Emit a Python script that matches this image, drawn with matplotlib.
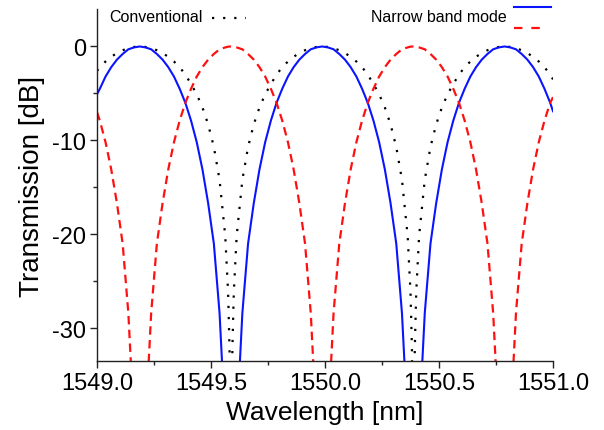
"""
Transmision de filtro: modo convencional vs modo de banda estrecha
"""

import matplotlib
matplotlib.use("Agg")
import matplotlib.pyplot as plt
from matplotlib.lines import Line2D
from matplotlib.ticker import MultipleLocator

# Longitudes de onda (nm)
wavelength = [
    1549.0, 1549.0125, 1549.0375, 1549.0625, 1549.0875, 1549.1125, 1549.1375, 1549.1625,
    1549.1875, 1549.2125, 1549.2375, 1549.2625, 1549.2875, 1549.3125, 1549.3375, 1549.3625,
    1549.3875, 1549.4125, 1549.4375, 1549.4625, 1549.4875, 1549.5125, 1549.5375, 1549.5625,
    1549.575, 1549.58125, 1549.5875, 1549.59375, 1549.6,
    1549.6125, 1549.6375, 1549.6625, 1549.6875, 1549.7125, 1549.7375, 1549.7625, 1549.7875,
    1549.8125, 1549.8375, 1549.8625, 1549.8875, 1549.9125, 1549.9375, 1549.9625, 1549.9875,
    1550.0125, 1550.0375, 1550.0625, 1550.0875, 1550.1125, 1550.1375, 1550.1625, 1550.1875,
    1550.2125, 1550.2375, 1550.2625, 1550.2875, 1550.3125, 1550.3375, 1550.3625,
    1550.375, 1550.38125, 1550.3875, 1550.39375, 1550.4,
    1550.4125, 1550.4375, 1550.4625, 1550.4875, 1550.5125, 1550.5375, 1550.5625, 1550.5875,
    1550.6125, 1550.6375, 1550.6625, 1550.6875, 1550.7125, 1550.7375, 1550.7625, 1550.7875,
    1550.8125, 1550.8375, 1550.8625, 1550.8875, 1550.9125, 1550.9375, 1550.9625, 1550.9875,
    1551.0,
]

# Modo banda estrecha, puerto 1 (azul, continua) [dB]
narrow_a = [
    -5.1, -4.5, -3.2, -2.2, -1.4, -0.8, -0.3, -0.1,
    0.0, -0.1, -0.3, -0.8, -1.4, -2.2, -3.2, -4.5,
    -6.0, -7.9, -10.2, -13.1, -16.7, -21.0, -28.4, -40.4,
    -52.0, -58.0, -60.0, -58.0, -52.0,
    -40.4, -28.4, -21.0, -16.7, -13.1, -10.2, -7.9, -6.0,
    -4.5, -3.2, -2.2, -1.4, -0.8, -0.3, -0.1, 0.0,
    -0.1, -0.3, -0.8, -1.4, -2.2, -3.2, -4.5, -6.0,
    -7.9, -10.2, -13.1, -16.7, -21.0, -28.4, -40.4,
    -52.0, -58.0, -60.0, -58.0, -52.0,
    -40.4, -28.4, -21.0, -16.7, -13.1, -10.2, -7.9, -6.0,
    -4.5, -3.2, -2.2, -1.4, -0.8, -0.3, -0.1, 0.0,
    -0.1, -0.3, -0.8, -1.4, -2.2, -3.2, -4.5, -6.0,
    -6.9,
]

# Modo banda estrecha, puerto 2 (rojo, discontinua) [dB]
narrow_b = [
    -7.0, -7.9, -10.2, -13.1, -16.7, -21.0, -28.4, -40.4,
    -60.0, -40.4, -28.4, -21.0, -16.7, -13.1, -10.2, -7.9,
    -6.0, -4.5, -3.2, -2.2, -1.4, -0.8, -0.3, -0.1,
    -0.02, -0.01, 0.0, -0.01, -0.02,
    -0.1, -0.3, -0.8, -1.4, -2.2, -3.2, -4.5, -6.0,
    -7.9, -10.2, -13.1, -16.7, -21.0, -28.4, -40.4, -60.0,
    -40.4, -28.4, -21.0, -16.7, -13.1, -10.2, -7.9, -6.0,
    -4.5, -3.2, -2.2, -1.4, -0.8, -0.3, -0.1,
    -0.02, -0.01, 0.0, -0.01, -0.02,
    -0.1, -0.3, -0.8, -1.4, -2.2, -3.2, -4.5, -6.0,
    -7.9, -10.2, -13.1, -16.7, -21.0, -28.4, -40.4, -60.0,
    -40.4, -28.4, -21.0, -16.7, -13.1, -10.2, -7.9, -6.0,
    -5.4,
]

# Modo convencional (negro, punteada) [dB]
conventional = [
    -2.6, -2.2, -1.6, -1.1, -0.7, -0.4, -0.2, -0.05,
    0.0, -0.05, -0.2, -0.4, -0.7, -1.1, -1.6, -2.2,
    -3.0, -4.0, -5.1, -6.5, -8.3, -10.7, -14.2, -20.2,
    -26.2, -32.2, -50.0, -32.2, -26.2,
    -20.2, -14.2, -10.7, -8.3, -6.5, -5.1, -4.0, -3.0,
    -2.2, -1.6, -1.1, -0.7, -0.4, -0.2, -0.05, 0.0,
    -0.05, -0.2, -0.4, -0.7, -1.1, -1.6, -2.2, -3.0,
    -4.0, -5.1, -6.5, -8.3, -10.7, -14.2, -20.2,
    -26.2, -32.2, -50.0, -32.2, -26.2,
    -20.2, -14.2, -10.7, -8.3, -6.5, -5.1, -4.0, -3.0,
    -2.2, -1.6, -1.1, -0.7, -0.4, -0.2, -0.05, 0.0,
    -0.05, -0.2, -0.4, -0.7, -1.1, -1.6, -2.2, -3.0,
    -3.5,
]

BLUE = '#0a14ff'
RED = '#ff1010'


def main():
    plt.rcParams['font.family'] = ['Liberation Sans', 'DejaVu Sans']
    plt.rcParams['axes.unicode_minus'] = False

    fig = plt.figure(figsize=(6.04, 4.31), dpi=100)
    ax = fig.add_axes([0.1606, 0.160, 0.755, 0.817])

    ax.plot(wavelength, conventional, color='black', linewidth=1.6,
            linestyle=(0, (1, 4)))
    ax.plot(wavelength, narrow_a, color=BLUE, linewidth=1.5)
    ax.plot(wavelength, narrow_b, color=RED, linewidth=1.6,
            linestyle=(0, (3.8, 2.4)))

    ax.set_xlim(1549.0, 1551.0)
    ax.set_ylim(-33.5, 4.0)
    ax.xaxis.set_major_locator(MultipleLocator(0.5))
    ax.xaxis.set_minor_locator(MultipleLocator(0.25))
    ax.yaxis.set_major_locator(MultipleLocator(10))
    ax.yaxis.set_minor_locator(MultipleLocator(5))
    ax.xaxis.set_major_formatter(plt.FormatStrFormatter('%.1f'))

    for side in ['top', 'right']:
        ax.spines[side].set_visible(False)
    for side in ['left', 'bottom']:
        ax.spines[side].set_linewidth(1.0)
        ax.spines[side].set_color('#222222')

    ax.tick_params(which='major', direction='out', length=5, width=1.0,
                   labelsize=17, pad=3, color='#222222')
    ax.tick_params(which='minor', direction='out', length=3, width=1.0,
                   color='#222222')

    ax.set_xlabel('Wavelength [nm]', fontsize=19, labelpad=4)
    ax.set_ylabel('Transmission [dB]', fontsize=20, labelpad=5)

    # Leyenda manual (estilo Origin)
    H, W = 431, 604
    fig.text(109 / W, 1 - 18 / H, 'Conventional', fontsize=11.5,
             va='center', ha='left')
    fig.add_artist(Line2D([212 / W, 246 / W], [1 - 19 / H, 1 - 19 / H],
                          color='black', linewidth=1.6,
                          linestyle=(0, (1, 4))))
    fig.text(507 / W, 1 - 18 / H, 'Narrow band mode', fontsize=11.5,
             va='center', ha='right')
    fig.add_artist(Line2D([514 / W, 551 / W], [1 - 8 / H, 1 - 8 / H],
                          color=BLUE, linewidth=1.5))
    fig.add_artist(Line2D([514 / W, 542 / W], [1 - 29 / H, 1 - 29 / H],
                          color=RED, linewidth=1.6,
                          linestyle=(0, (3.8, 4.0))))

    fig.savefig('out.png', dpi=100)


if __name__ == "__main__":
    main()
